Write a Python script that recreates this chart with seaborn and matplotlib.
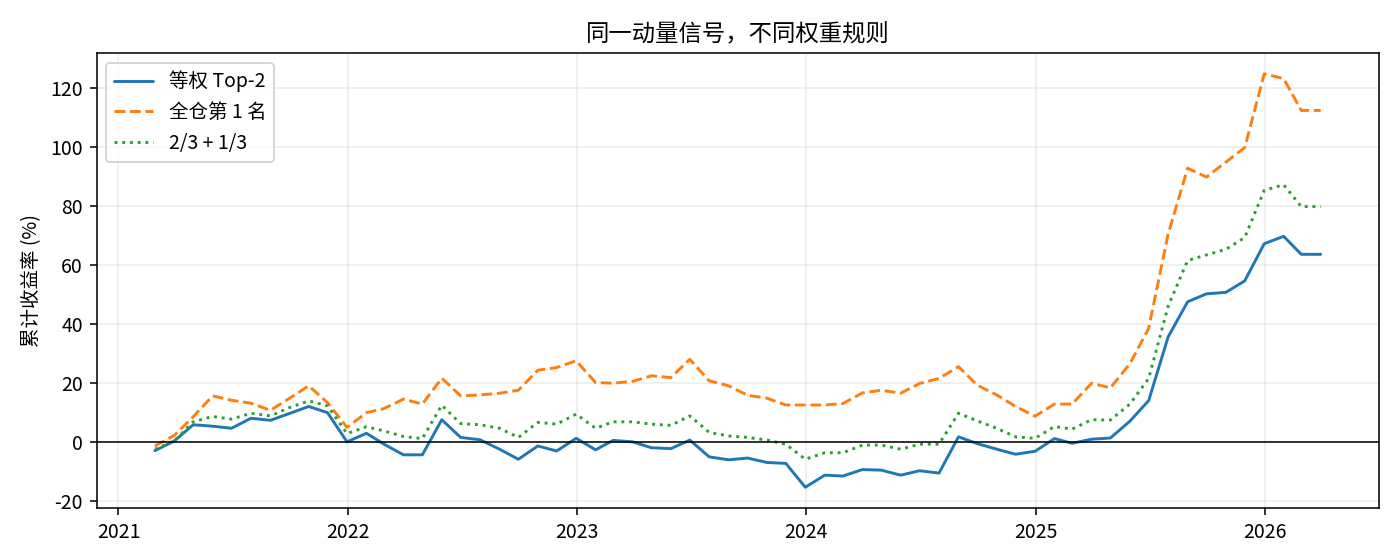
import matplotlib
matplotlib.use("Agg")
import matplotlib.pyplot as plt
import seaborn as sns
import pandas as pd

# === Data (cumulative return, %, month-end) ===
dates = pd.date_range("2021-02-28", periods=62, freq="ME")

equal_top2 = [
    -3.0, 0.3, 5.8, 5.3, 4.6, 8.0, 7.3, 9.6, 12.0, 9.9,
    0.0, 2.9, -0.8, -4.4, -4.4, 7.5, 1.5, 0.7, -2.5, -5.9,
    -1.4, -3.1, 1.2, -2.7, 0.5, 0.0, -2.0, -2.3, 0.6, -5.1,
    -6.1, -5.5, -7.0, -7.3, -15.4, -11.3, -11.6, -9.4, -9.6, -11.3,
    -9.8, -10.6, 1.7, -0.6, -2.5, -4.2, -3.2, 1.1, -0.5, 0.9,
    1.3, 7.0, 14.0, 35.6, 47.5, 50.2, 50.7, 54.6, 67.2, 69.7,
    63.6, 63.6,
]
all_in_top1 = [
    -1.4, 2.2, 8.5, 15.6, 14.1, 13.1, 10.7, 14.7, 19.0, 13.3,
    4.9, 9.9, 11.3, 14.5, 12.8, 21.6, 15.6, 15.9, 16.5, 17.5,
    24.3, 25.2, 27.5, 20.1, 19.9, 20.5, 22.4, 21.8, 28.0, 20.7,
    19.0, 15.8, 14.8, 12.5, 12.5, 12.5, 13.0, 16.6, 17.5, 16.5,
    19.8, 21.5, 25.5, 19.2, 15.9, 12.0, 8.7, 12.8, 12.8, 19.9,
    18.3, 26.5, 38.5, 70.5, 92.8, 89.8, 94.9, 99.8, 124.8, 123.2,
    112.4, 112.4,
]
two_thirds = [
    -2.5, 0.3, 6.8, 8.6, 7.7, 9.7, 8.8, 11.6, 13.9, 12.2,
    2.8, 5.1, 3.7, 1.8, 1.1, 12.4, 6.2, 5.8, 4.6, 1.5,
    6.6, 6.0, 9.4, 4.6, 6.8, 6.8, 6.0, 5.6, 8.8, 3.2,
    2.0, 1.5, 0.6, -0.8, -5.9, -3.7, -3.7, -1.1, -1.1, -2.5,
    -0.8, -0.8, 9.7, 7.1, 4.6, 1.7, 1.2, 5.2, 4.3, 7.5,
    7.4, 12.8, 21.5, 46.0, 61.5, 63.4, 65.3, 69.3, 85.3, 87.2,
    79.8, 79.8,
]

labels = ["等权 Top-2", "全仓第 1 名", "2/3 + 1/3"]
colors = ["#1f77b4", "#ff7f0e", "#2ca02c"]
styles = ["-", "--", ":"]

# === Style ===
sns.set_theme(style="ticks")
plt.rcParams["font.family"] = ["Noto Sans CJK SC", "DejaVu Sans"]
plt.rcParams["axes.unicode_minus"] = False
plt.rcParams.update({
    "font.size": 10,
    "axes.labelsize": 10,
    "axes.titlesize": 12,
    "xtick.labelsize": 10,
    "ytick.labelsize": 10,
    "legend.fontsize": 10,
    "axes.edgecolor": "black",
    "axes.linewidth": 0.8,
    "xtick.color": "black",
    "ytick.color": "black",
    "xtick.major.size": 3.5,
    "ytick.major.size": 3.5,
    "xtick.major.width": 0.8,
    "ytick.major.width": 0.8,
    "text.color": "black",
    "axes.labelcolor": "black",
})

fig, ax = plt.subplots(figsize=(10, 4), dpi=140)

for series, label, color, ls in zip([equal_top2, all_in_top1, two_thirds], labels, colors, styles):
    sns.lineplot(x=dates, y=series, ax=ax, label=label, color=color,
                 linestyle=ls, linewidth=1.5)

ax.axhline(0, color="black", linewidth=0.8)
ax.grid(True, alpha=0.3)
ax.set_title("同一动量信号，不同权重规则")
ax.set_ylabel("累计收益率 (%)")
ax.set_xlabel("")
ax.legend(loc="upper left", frameon=True)

fig.subplots_adjust(left=0.069, right=0.985, top=0.905, bottom=0.093)
fig.savefig("out.png", dpi=140)
